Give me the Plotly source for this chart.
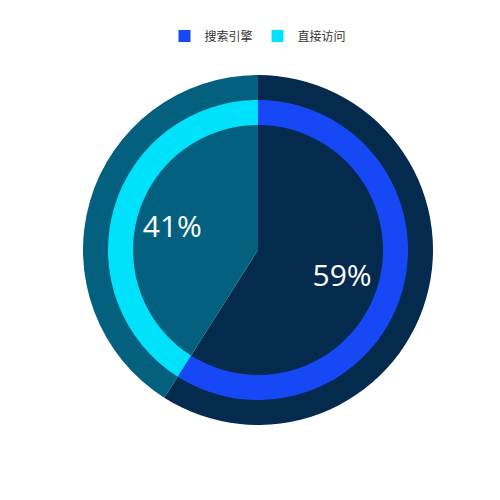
import plotly.graph_objects as go

# data
categories = ['搜索引擎', '直接访问']
values = [59, 41]
bright_colors = ['#1649F5', '#00E1FB']
dark_colors = ['#042A4E', '#03607F']

# page is drawn with an 8px body margin, so work in figure pixels
W, H = 500, 500
cx, cy = 250, 242
r_outer, r_ring_out, r_ring_in = 175, 150, 125


def domain(r):
    return dict(x=[(cx - r) / W, (cx + r) / W],
                y=[(H - cy - r) / H, (H - cy + r) / H])


common = dict(labels=categories, values=values, sort=False,
              direction='clockwise', rotation=0,
              marker=dict(line=dict(width=0)))

fig = go.Figure()
# dark full pie underneath, carries the percentages
fig.add_trace(go.Pie(**common, domain=domain(r_outer),
                     marker_colors=dark_colors,
                     textinfo='percent', textposition='inside',
                     insidetextorientation='horizontal',
                     insidetextfont=dict(color='white', size=30,
                                         family='Open Sans'),
                     hoverinfo='label+percent',
                     showlegend=False))
# bright ring on top
fig.add_trace(go.Pie(**common, domain=domain(r_ring_out),
                     hole=r_ring_in / r_ring_out,
                     marker_colors=bright_colors,
                     textinfo='none', hoverinfo='label+percent',
                     showlegend=True))

fig.update_layout(
    width=W, height=H,
    margin=dict(l=0, r=0, t=0, b=0),
    paper_bgcolor='#FFFFFF',
    font=dict(family='Noto Sans CJK SC, Noto Sans, sans-serif'),
    legend=dict(orientation='h', x=0.5, xanchor='center',
                y=0.944, yanchor='middle',
                font=dict(size=12, color='#333333'),
                itemwidth=30, bgcolor='rgba(0,0,0,0)'),
)

fig.write_html('out.html')
